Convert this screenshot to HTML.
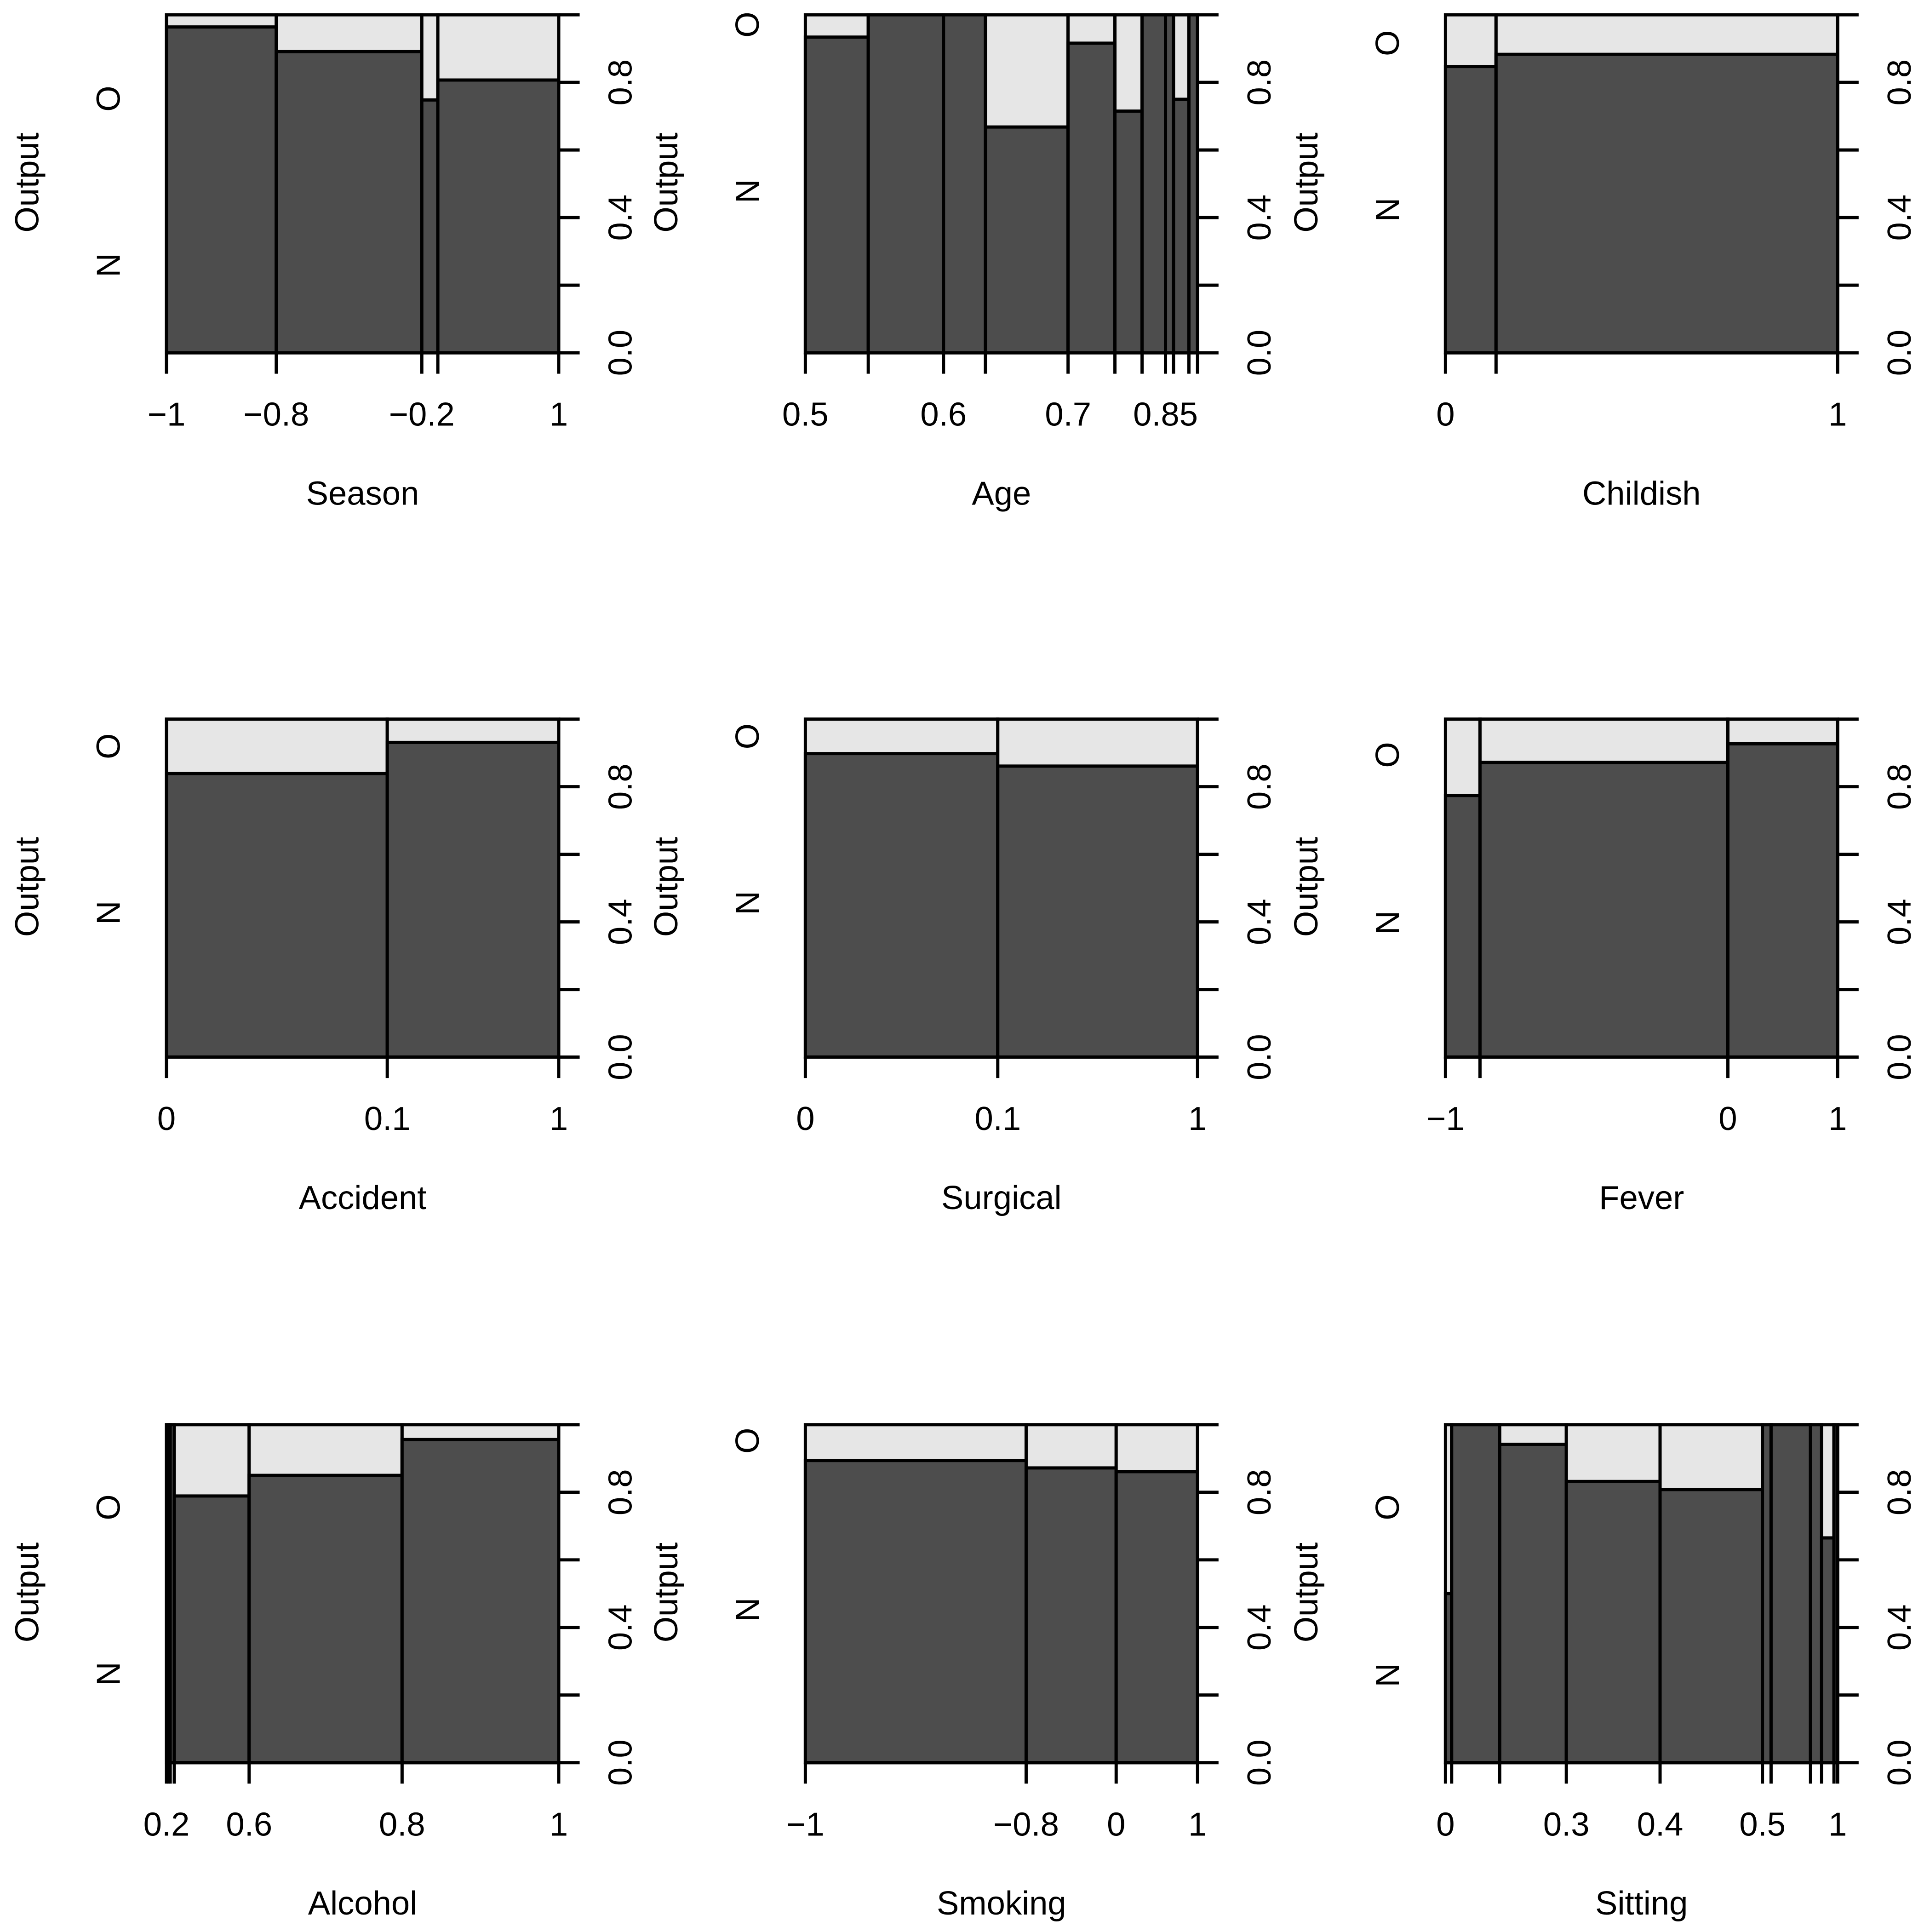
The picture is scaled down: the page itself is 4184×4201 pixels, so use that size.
<!DOCTYPE html>
<html><head><meta charset="utf-8"><style>
html,body{margin:0;padding:0;background:#fff;}
svg{display:block;}
text{font-family:"Liberation Sans",Arial,sans-serif;font-size:27px;fill:#000;}
</style></head>
<body>
<svg id="chart" xmlns="http://www.w3.org/2000/svg" width="4184" height="4201" viewBox="0 0 1560 1566.3" preserveAspectRatio="none"></svg>
<script>
// ---- data (relative bar widths = counts, N proportions, boundary labels) ----
const panelNames = ["Season","Age","Childish","Accident","Surgical","Fever","Alcohol","Smoking","Sitting"];
const seasonWidths = [89,118,13,98];
const seasonN = [0.964,0.891,0.748,0.807];
const seasonLabels = ["\u22121","\u22120.8","\u22120.2","","1"];
const ageWidths = [51,61,34,67,38,22,19,6.5,12.5,7];
const ageN = [0.934,1,1,0.668,0.916,0.715,1,1,0.75,1];
const ageLabels = ["0.5","","0.6","","0.7","","","0.85","","",""];
const childishWidths = [41,277];
const childishN = [0.847,0.883];
const childishLabels = ["0","","1"];
const accidentWidths = [179,139];
const accidentN = [0.839,0.931];
const accidentLabels = ["0","0.1","1"];
const surgicalWidths = [156,162];
const surgicalN = [0.898,0.861];
const surgicalLabels = ["0","0.1","1"];
const feverWidths = [28,201,89];
const feverN = [0.774,0.872,0.927];
const feverLabels = ["\u22121","","0","1"];
const alcoholWidths = [1.5,1.5,3.3,60.7,124,127];
const alcoholN = [1,1,1,0.789,0.85,0.956];
const alcoholLabels = ["0.2","","","","0.6","0.8","1"];
const smokingWidths = [179,73,66];
const smokingN = [0.894,0.872,0.861];
const smokingLabels = ["\u22121","\u22120.8","0","1"];
const sittingWidths = [5,39,54,76,83,7,32,9,10,3];
const sittingN = [0.5,1,0.942,0.832,0.808,1,1,1,0.665,1];
const sittingLabels = ["0","","","0.3","0.4","0.5","","","","","1"];
const yTicks = [0,0.2,0.4,0.6,0.8,1.0];
const yTickLabels = ["0.0","","0.4","","0.8",""];

const widthsAll = [seasonWidths,ageWidths,childishWidths,accidentWidths,surgicalWidths,feverWidths,alcoholWidths,smokingWidths,sittingWidths];
const nAll = [seasonN,ageN,childishN,accidentN,surgicalN,feverN,alcoholN,smokingN,sittingN];
const labelsAll = [seasonLabels,ageLabels,childishLabels,accidentLabels,surgicalLabels,feverLabels,alcoholLabels,smokingLabels,sittingLabels];
// layout
const colX = [135,653,1172];
const rowY = [12,583,1155];
const PW = 318, PH = 274;
const labO = [68,8,23,22,14,29,67,13,67];
const labN = [203,143,158,157,149,165,202,150,203];

const NS = "http://www.w3.org/2000/svg";
const svg = document.getElementById("chart");
function mk(tag, attrs, parent){
  const e = document.createElementNS(NS, tag);
  for (const k in attrs) e.setAttribute(k, attrs[k]);
  (parent||svg).appendChild(e);
  return e;
}
const LW = 2.6;

panelNames.forEach((name, p) => {
  const x0 = colX[p%3], y0 = rowY[Math.floor(p/3)];
  const g = mk("g", {});
  
  
  const widths = widthsAll[p], nv = nAll[p], labs = labelsAll[p];
  const total = widths.reduce((a,b)=>a+b,0);
  const xs = v => x0 + v/total*PW;
  const ys = v => y0 + PH - v*PH;
  // bars
  let cum = 0;
  const bounds = [xs(0)];
  widths.forEach((w, i) => {
    const bx = xs(cum), bw = xs(cum+w) - bx;
    const light = mk("rect", {x:bx, y:ys(1), width:bw, height:PH, fill:"#e6e6e6", stroke:"#000", "stroke-width":LW}, g);
    
    
    const dark = mk("rect", {x:bx, y:ys(nv[i]), width:bw, height:ys(0)-ys(nv[i]), fill:"#4d4d4d", stroke:"#000", "stroke-width":LW}, g);
    
    
    cum += w;
    bounds.push(xs(cum));
  });
  // x axis
  const xa = mk("line", {x1:bounds[0], x2:bounds[bounds.length-1], y1:ys(0), y2:ys(0), stroke:"#000", "stroke-width":LW}, g);
  
  
  bounds.forEach((bx, i) => {
    const t = mk("line", {x1:bx, x2:bx, y1:ys(0), y2:ys(0)+17, stroke:"#000", "stroke-width":LW}, g);
    
    
    if (labs[i]) {
      const tx = mk("text", {x:bx, y:ys(0)+50, "text-anchor":"middle", "dominant-baseline":"central"}, g);
      tx.textContent = labs[i];
      
      
    }
  });
  // right y axis
  const xr = x0 + PW;
  const ya = mk("line", {x1:xr, x2:xr, y1:ys(0), y2:ys(1), stroke:"#000", "stroke-width":LW}, g);
  
  
  yTicks.forEach((v, i) => {
    const t = mk("line", {x1:xr, x2:xr+17, y1:ys(v), y2:ys(v), stroke:"#000", "stroke-width":LW}, g);
    
    
    if (yTickLabels[i]) {
      const tx = mk("text", {x:0, y:0, "text-anchor":"middle", "dominant-baseline":"central", transform:`translate(${xr+50},${ys(v)}) rotate(-90)`}, g);
      tx.textContent = yTickLabels[i];
      
      
    }
  });
  // category labels
  [["O", labO[p]], ["N", labN[p]]].forEach(([s, off]) => {
    const tx = mk("text", {x:0, y:0, "text-anchor":"middle", "dominant-baseline":"central", transform:`translate(${x0-47},${y0+off}) rotate(-90)`}, g);
    tx.textContent = s;
    
    
  });
  const yl = mk("text", {x:0, y:0, "text-anchor":"middle", "dominant-baseline":"central", transform:`translate(${x0-113},${y0+136}) rotate(-90)`}, g);
  yl.textContent = "Output";
  
  
  const xl = mk("text", {x:x0+PW/2, y:y0+PH+114, "text-anchor":"middle", "dominant-baseline":"central"}, g);
  xl.textContent = name;
  
  
});
</script>
</body></html>
